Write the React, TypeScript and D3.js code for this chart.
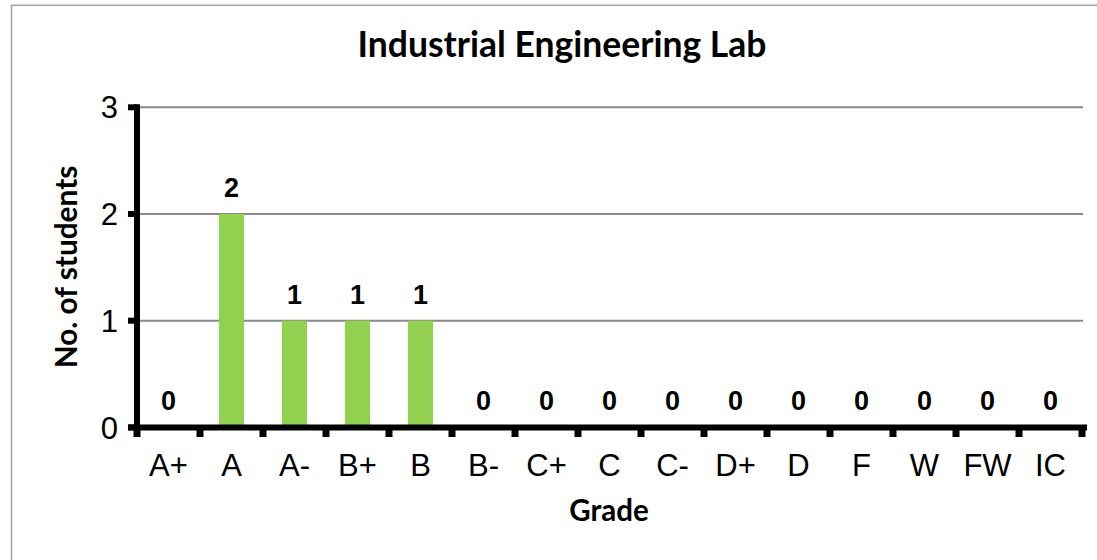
import React from "react";
import * as d3 from "d3";

const categories = ["A+", "A", "A-", "B+", "B", "B-", "C+", "C", "C-", "D+", "D", "F", "W", "FW", "IC"];
const values = [0, 2, 1, 1, 1, 0, 0, 0, 0, 0, 0, 0, 0, 0, 0];
const yTicks = [0, 1, 2, 3];
const title = "Industrial Engineering Lab";
const xTitle = "Grade";
const yTitle = "No. of students";

const W = 1097;
const H = 560;
const left = 137;
const right = 1082;
const top = 107.3;
const bottom = 427.4;

export default function App() {
  const x = d3.scaleBand<string>().domain(categories).range([left, right]).paddingInner(0.6).paddingOuter(0.3);
  const y = d3.scaleLinear().domain([0, 3]).range([bottom, top]);
  const step = x.step();
  const boundaries = d3.range(categories.length + 1).map((i) => left + i * step);
  const titleFont = "Lato, 'Open Sans', sans-serif";
  const arial = "Arial, 'Liberation Sans', sans-serif";

  return (
    <svg width={W} height={H} style={{ position: "absolute", left: 0, top: 0, background: "#fff" }}>
      <rect x={11.5} y={5.3} width={W + 20} height={H + 20} fill="#fff" stroke="#a6a6a6" strokeWidth={1.6} />
      <text x={562} y={57} textAnchor="middle" fontFamily={titleFont} fontWeight="bold" fontSize={35.5} fill="#000">
        {title}
      </text>
      {yTicks.filter((t) => t > 0).map((t) => (
        <line key={"g" + t} x1={left} x2={right + 1} y1={y(t)} y2={y(t)} stroke="#898989" strokeWidth={2} />
      ))}
      {categories.map((c, i) => (
        <rect key={"b" + c} x={x(c)} y={y(values[i])} width={x.bandwidth()} height={bottom - y(values[i])} fill="#92d050" />
      ))}
      {categories.map((c, i) => (
        <text
          key={"l" + c}
          x={(x(c) as number) + x.bandwidth() / 2}
          y={y(values[i]) - 17}
          textAnchor="middle"
          fontFamily={arial}
          fontWeight={700}
          fontSize={27}
          fill="#000"
        >
          {values[i]}
        </text>
      ))}
      {/* y axis */}
      <line x1={left} x2={left} y1={top - 3} y2={bottom + 4} stroke="#000" strokeWidth={6} />
      {yTicks.map((t) => (
        <line key={"yt" + t} x1={128} x2={left} y1={y(t)} y2={y(t)} stroke="#000" strokeWidth={6} />
      ))}
      {yTicks.map((t) => (
        <text key={"yl" + t} x={118} y={y(t)} dy="0.36em" textAnchor="end" fontFamily={arial} fontSize={31} fill="#000">
          {t}
        </text>
      ))}
      {/* x axis */}
      <line x1={128} x2={right + 5} y1={bottom} y2={bottom} stroke="#000" strokeWidth={6} />
      {boundaries.map((b, i) => (
        <line key={"xt" + i} x1={b} x2={b} y1={bottom} y2={437} stroke="#000" strokeWidth={7} />
      ))}
      {categories.map((c) => (
        <text
          key={"xl" + c}
          x={(x(c) as number) + x.bandwidth() / 2}
          y={476}
          textAnchor="middle"
          fontFamily={arial}
          fontSize={31}
          fill="#000"
        >
          {c}
        </text>
      ))}
      <text x={609} y={521} textAnchor="middle" fontFamily={titleFont} fontWeight="bold" fontSize={29.5} fill="#000">
        {xTitle}
      </text>
      <text
        transform={`translate(77,267) rotate(-90)`}
        textAnchor="middle"
        fontFamily={titleFont}
        fontWeight="bold"
        fontSize={29.8}
        fill="#000"
      >
        {yTitle}
      </text>
    </svg>
  );
}
